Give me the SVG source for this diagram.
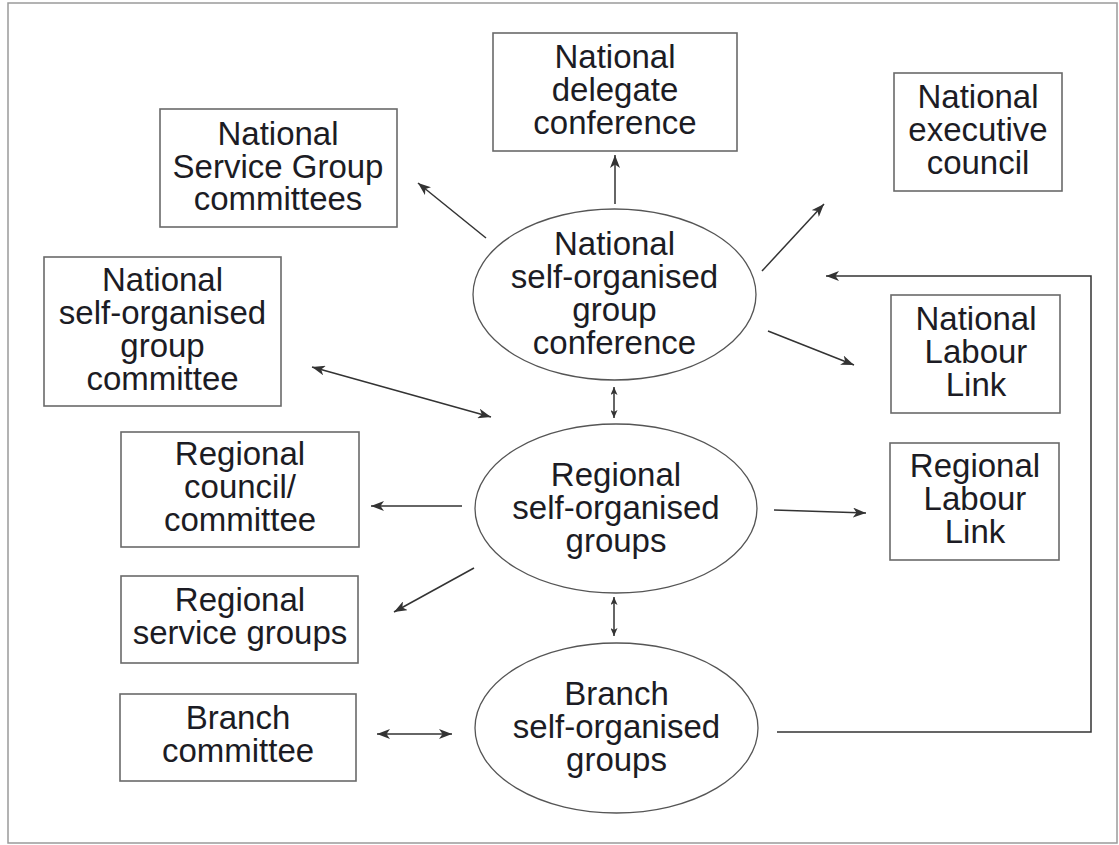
<svg xmlns="http://www.w3.org/2000/svg" width="1119" height="845" viewBox="0 0 1119 845">
<style>
.box{fill:#fff;stroke:#6a6a6a;stroke-width:1.6}
.ell{fill:#fff;stroke:#555;stroke-width:1.3}
.t{font-family:"Liberation Sans",Arial,sans-serif;font-size:33px;fill:#1c1c24;text-anchor:middle}
.c{fill:none;stroke:#333;stroke-width:1.5}
.big{marker-end:url(#ah)}
.both{marker-start:url(#ah);marker-end:url(#ah)}
.sm{marker-start:url(#as);marker-end:url(#as)}
</style>
<defs>
<marker id="ah" viewBox="0 0 13 10" refX="13" refY="5" markerWidth="13" markerHeight="10" markerUnits="userSpaceOnUse" orient="auto-start-reverse">
<path d="M0,0 L13,5 L0,10 L3.5,5 z" fill="#333"/>
</marker>
<marker id="as" viewBox="0 0 8 7" refX="8" refY="3.5" markerWidth="8" markerHeight="7" markerUnits="userSpaceOnUse" orient="auto-start-reverse">
<path d="M0,0 L8,3.5 L0,7 L2,3.5 z" fill="#333"/>
</marker>
</defs>
<rect x="8" y="3" width="1109" height="840" fill="#fff" stroke="#9a9a9a" stroke-width="1.5"/>

<g id="connectors">
<line class="c big" x1="615" y1="204" x2="615" y2="155"/>
<line class="c big" x1="486" y1="238" x2="418" y2="183"/>
<line class="c big" x1="762" y1="271" x2="824" y2="204"/>
<line class="c big" x1="768" y1="331" x2="854" y2="365"/>
<polyline class="c big" points="777,732 1091,732 1091,276 826,276"/>
<line class="c both" x1="312" y1="367" x2="491" y2="417"/>
<line class="c sm" x1="614" y1="387" x2="614" y2="418"/>
<line class="c big" x1="462" y1="506" x2="371" y2="506"/>
<line class="c big" x1="774" y1="510" x2="866" y2="513"/>
<line class="c big" x1="474" y1="568" x2="394" y2="612"/>
<line class="c sm" x1="614" y1="597" x2="614" y2="636"/>
<line class="c both" x1="377" y1="734" x2="452" y2="734"/>
</g>

<g id="ndc">
<rect class="box" x="493" y="33" width="244" height="118"/>
<text class="t" x="615" y="68">National</text>
<text class="t" x="615" y="101">delegate</text>
<text class="t" x="615" y="134">conference</text>
</g>

<g id="nsg">
<rect class="box" x="160" y="109" width="237" height="118"/>
<text class="t" x="278" y="145">National</text>
<text class="t" x="278" y="178">Service Group</text>
<text class="t" x="278" y="210">committees</text>
</g>

<g id="nec">
<rect class="box" x="894" y="73" width="168" height="118"/>
<text class="t" x="978" y="108">National</text>
<text class="t" x="978" y="141">executive</text>
<text class="t" x="978" y="174">council</text>
</g>

<g id="nsogc">
<rect class="box" x="44" y="257" width="237" height="149"/>
<text class="t" x="162.5" y="291">National</text>
<text class="t" x="162.5" y="324">self-organised</text>
<text class="t" x="162.5" y="357">group</text>
<text class="t" x="162.5" y="390">committee</text>
</g>

<g id="nsogconf">
<ellipse class="ell" cx="614.5" cy="294.5" rx="141.5" ry="85.5"/>
<text class="t" x="614.5" y="255">National</text>
<text class="t" x="614.5" y="288">self-organised</text>
<text class="t" x="614.5" y="321">group</text>
<text class="t" x="614.5" y="354">conference</text>
</g>

<g id="nll">
<rect class="box" x="891" y="295" width="169" height="118"/>
<text class="t" x="976" y="330">National</text>
<text class="t" x="976" y="363">Labour</text>
<text class="t" x="976" y="396">Link</text>
</g>

<g id="rc">
<rect class="box" x="121" y="432" width="238" height="115"/>
<text class="t" x="240" y="465">Regional</text>
<text class="t" x="240" y="498">council/</text>
<text class="t" x="240" y="531">committee</text>
</g>

<g id="rsog">
<ellipse class="ell" cx="616" cy="508.5" rx="141" ry="84.5"/>
<text class="t" x="616" y="486">Regional</text>
<text class="t" x="616" y="519">self-organised</text>
<text class="t" x="616" y="552">groups</text>
</g>

<g id="rll">
<rect class="box" x="890" y="443" width="169" height="117"/>
<text class="t" x="975" y="477">Regional</text>
<text class="t" x="975" y="510">Labour</text>
<text class="t" x="975" y="543">Link</text>
</g>

<g id="rsg">
<rect class="box" x="121" y="576" width="237" height="87"/>
<text class="t" x="240" y="611">Regional</text>
<text class="t" x="240" y="644">service groups</text>
</g>

<g id="bc">
<rect class="box" x="120" y="694" width="236" height="87"/>
<text class="t" x="238" y="729">Branch</text>
<text class="t" x="238" y="762">committee</text>
</g>

<g id="bsog">
<ellipse class="ell" cx="616.5" cy="728" rx="141.5" ry="85"/>
<text class="t" x="616.5" y="705">Branch</text>
<text class="t" x="616.5" y="738">self-organised</text>
<text class="t" x="616.5" y="771">groups</text>
</g>
</svg>
